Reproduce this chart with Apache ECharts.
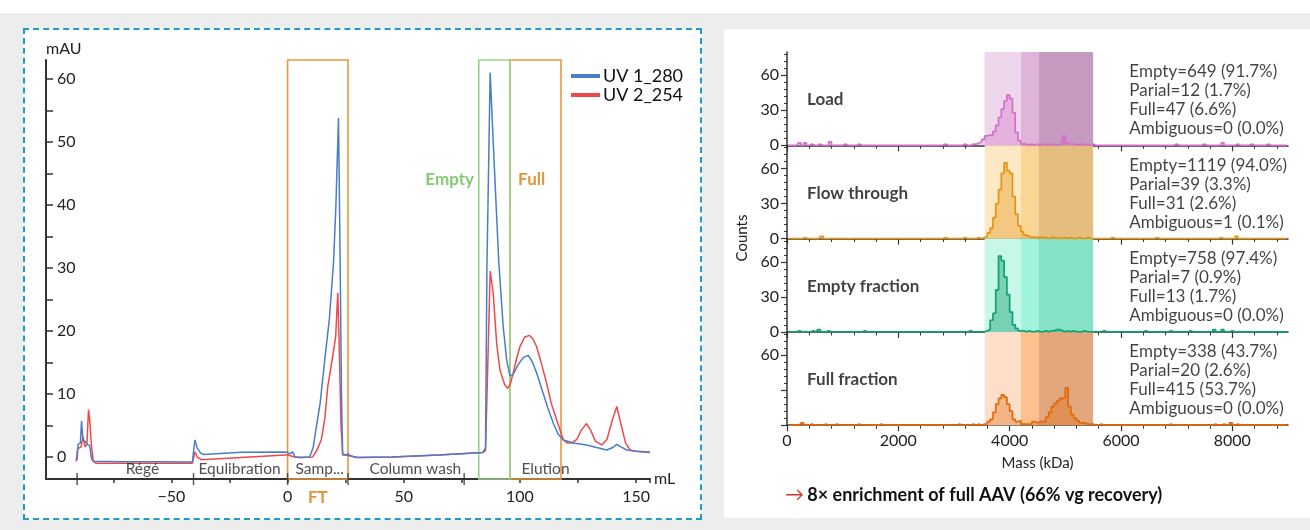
<!DOCTYPE html>
<html>
<head>
<meta charset="utf-8">
<script src="https://cdn.jsdelivr.net/npm/echarts@6/dist/echarts.min.js"></script>
<style>
  html, body { margin: 0; padding: 0; background: #fff; }
  body { width: 1310px; height: 530px; position: relative; overflow: hidden; }
  .bg { position: absolute; left: 0; top: 13px; width: 1310px; height: 517px; background: #ededed; }
  .panel { position: absolute; background: #fff; box-sizing: border-box; }
  #left { left: 23px; top: 28px; width: 679px; height: 492px; border: 2px dashed #1f9cc6; }
  #right { left: 724px; top: 29px; width: 586px; height: 489px; }
  #chart { position: absolute; left: 0; top: 0; width: 1310px; height: 530px; }
</style>
</head>
<body>
<div class="bg"></div>
<div class="panel" id="left"></div>
<div class="panel" id="right"></div>
<div id="chart"></div>
<script>
// chromatogram, [mL, mAU]
const uv280 = [
  [-90.6, -0.5], [-90.2, 2.0], [-89.2, 2.2], [-88.7, 5.7], [-88.1, 2.8], [-87.2, 2.5], [-86.2, 2.0], [-85.2, 1.8],
  [-84.4, -0.3], [-83.6, -0.7], [-70, -0.75], [-55, -0.75], [-41, -0.8], [-40.6, -0.6], [-39.9, 2.7], [-38.9, 1.4],
  [-37.4, 0.6], [-36, 0.4], [-35.3, 0.7], [-20, 0.75], [-1, 0.8], [0, 0.7], [1, 0.5], [2.2, 0.8], [3.2, 0],
  [5.4, -0.1], [9.5, 0], [11, 1.5], [12.4, 4.8], [14, 8.5], [16, 15.4], [18, 22], [19.8, 31], [20.8, 40],
  [21.9, 53.8], [22.5, 35], [23.2, 10], [23.7, 0.5], [25, 0.3], [26, 0.5], [27, 0.2], [30, -0.1], [45, 0],
  [65, 0.3], [84, 0.7], [85.2, 1.5], [85.8, 30], [87.2, 61], [89, 46], [90.9, 31], [92.8, 20.7], [94.3, 15.4],
  [95.7, 12.9], [97, 13], [99, 14.5], [101.5, 15.8], [103.6, 16.1], [105.5, 15], [107.5, 13], [110, 10.1],
  [112, 7.8], [114.4, 5.3], [116.5, 3.6], [118.7, 2.7], [123, 2.2], [128.7, 1.9], [133, 1.5], [137.4, 1.1],
  [140, 1.5], [141.7, 2.0], [143.5, 1.6], [146, 1.1], [150, 0.9], [156, 0.7]
]
const uv254 = [
  [-91, -0.7], [-90.4, 1.3], [-88.9, 1.6], [-88.1, 3.2], [-87.2, 1.6], [-86.4, 2.0], [-85.7, 7.5], [-85.2, 5.9],
  [-84.4, 1.6], [-83.6, -0.7], [-82.6, -1.0], [-60, -1.0], [-41, -1.0], [-40.6, -0.8], [-39.9, 0.8], [-38.9, 0],
  [-37.4, -0.4], [-35.3, -0.4], [-20, -0.1], [-1, 0.3], [0, 0.3], [3, 0], [6, -0.1], [10.8, 0], [12.5, 1],
  [14.5, 2.7], [16, 6], [17.3, 11.2], [19, 15], [20.7, 19.1], [21.2, 23], [21.6, 26], [22.2, 18], [23, 5],
  [23.7, 0.3], [25, 0.3], [30, -0.1], [45, 0], [65, 0.3], [84, 0.7], [85.2, 1], [86.2, 15], [87.2, 29.5],
  [88.5, 26], [90, 18], [91.4, 13.8], [93.5, 11.4], [94.7, 10.9], [95.8, 11.5], [97.1, 13.3], [98.5, 15.5],
  [100, 17.5], [102, 19], [104, 19.3], [105.5, 18.8], [107.2, 17.5], [109.5, 14.5], [111.5, 11.7], [113.5, 8.5],
  [115.8, 5.9], [118.7, 2.7], [120.5, 2.2], [122.3, 2.2], [124.5, 2.8], [126.5, 4.3], [128.7, 5.3], [130.5, 4.2],
  [132.5, 2.5], [135.2, 1.9], [137.5, 2.8], [139.5, 5.5], [141.7, 8.0], [143.5, 5.2], [145.5, 2.2], [147.4, 1.1],
  [150, 0.9], [156, 0.8]
]
const phaseNames = ['Régé', 'Equlibration', 'Samp...', 'Column wash', 'Elution']
const phaseLabelX = [-62.5, -20.7, 13.8, 55, 111]
const phaseMarks = [-90.6, -40.5, 0, 26, 76]
const fractionNames = ['FT', 'Full', 'Empty']
const fractionFrom = [0, 95.7, 82.3]
const fractionTo = [26, 117.7, 95.7]

// mass photometry histograms, counts per 50 kDa bin from 3300 kDa
const panelNames = ['Load', 'Flow through', 'Empty fraction', 'Full fraction']
const loadCounts = [1, 1, 2, 3, 5, 8, 9, 8, 12, 17, 24, 31, 38, 43, 40, 28, 11, 4, 1, 1, 0, 1, 0, 1, 0, 1, 1, 0, 1, 1, 0, 1, 1, 8, 2, 1, 1, 1, 0, 1, 1, 0, 0, 1]
const flowCounts = [0, 0, 1, 0, 1, 2, 5, 9, 18, 30, 42, 56, 65, 58, 56, 36, 21, 11, 6, 3, 2, 1, 1, 1, 1, 1, 1, 0, 1, 1, 0, 1, 0, 1, 0, 1, 0, 0, 1, 0, 0, 1, 0, 0]
const emptyCounts = [0, 0, 0, 0, 0, 1, 2, 10, 16, 36, 65, 61, 47, 32, 17, 6, 3, 1, 1, 0, 1, 0, 0, 1, 0, 0, 1, 0, 1, 1, 2, 2, 1, 0, 1, 0, 1, 0, 0, 0, 1, 0, 0, 0]
const fullCounts = [1, 0, 1, 0, 1, 1, 3, 5, 11, 18, 23, 26, 24, 18, 12, 5, 3, 4, 1, 1, 1, 1, 3, 2, 3, 3, 3, 7, 11, 16, 19, 21, 23, 24, 32, 16, 9, 6, 4, 2, 2, 1, 1, 1]
// isolated events outside the main peak, [kDa, count]
const loadStray = [[200, 2], [300, 2], [400, 1], [550, 1], [750, 3], [1000, 1], [1250, 1], [2800, 1], [3150, 1], [6950, 1], [7450, 1], [7800, 2], [8050, 1], [8300, 1], [8600, 1]]
const flowStray = [[300, 1], [600, 2], [2800, 1], [3150, 1], [5800, 1], [6600, 1], [7750, 1], [8050, 2]]
const emptyStray = [[200, 1], [450, 1], [550, 2], [700, 1], [1350, 1], [3250, 1], [5650, 1], [6400, 1], [6850, 1], [7200, 1], [7650, 2], [7800, 2], [7950, 1]]
const fullStray = [[250, 2], [400, 1], [650, 1], [850, 1], [1250, 1], [1650, 1], [3050, 1], [5600, 1], [6850, 1], [7650, 1], [7800, 1], [7950, 2], [8050, 1]]
const bandEdges = [3550, 4200, 4520, 5500]
const statEmpty = ['649 (91.7%)', '1119 (94.0%)', '758 (97.4%)', '338 (43.7%)']
const statPartial = ['12 (1.7%)', '39 (3.3%)', '7 (0.9%)', '20 (2.6%)']
const statFull = ['47 (6.6%)', '31 (2.6%)', '13 (1.7%)', '415 (53.7%)']
const statAmbiguous = ['0 (0.0%)', '1 (0.1%)', '0 (0.0%)', '0 (0.0%)']

const FONT = 'Lato, "Noto Sans", sans-serif'
const INK = '#222'
const AXIS = '#333'
const BIN0 = 3300, BINW = 50, MASSMAX = 9000

const histColors = [
  {line: '#d56fc9', fill: 'rgba(213,111,201,0.5)', bands: ['#eed7ec', '#dfb3da', '#c79bbf']},
  {line: '#e5940f', fill: 'rgba(229,148,15,0.55)', bands: ['#fde8c6', '#fbd593', '#e4bd7f']},
  {line: '#0e9f72', fill: 'rgba(14,159,114,0.6)', bands: ['#c7f7e7', '#9ff5dc', '#86e2c6']},
  {line: '#e4680c', fill: 'rgba(228,104,12,0.5)', bands: ['#fddfc9', '#fdc18e', '#e2a77c']}
]

function histData(counts, stray) {
  let n = MASSMAX / BINW
  let bins = new Array(n).fill(0)
  let off = BIN0 / BINW
  counts.forEach((c, i) => { bins[off + i] = c })
  stray.forEach(([m, c]) => { bins[Math.floor(m / BINW)] = c })
  return bins.map((c, i) => [i * BINW + BINW / 2, c])
}

let chart = echarts.init(document.getElementById('chart'))

let grids = [{left: 46, top: 60, width: 604, height: 419}]
let xAxes = [{
  type: 'value', gridIndex: 0, min: -104, max: 156,
  axisLine: {onZero: false, lineStyle: {color: AXIS, width: 2}},
  axisTick: {customValues: [-75, -50, -25, 0, 25, 50, 75, 100, 125, 150, 156], length: 4, lineStyle: {color: AXIS, width: 1.5}},
  axisLabel: {customValues: [-50, 0, 50, 100, 150], fontSize: 16, color: INK, fontFamily: FONT, margin: 10,
    formatter: v => String(v).replace('-', '\u2212')},
  splitLine: {show: false},
  name: 'mL', nameGap: 4,
  nameTextStyle: {fontSize: 16, color: INK, fontFamily: FONT, align: 'left', verticalAlign: 'middle'}
}]
let yAxes = [{
  type: 'value', gridIndex: 0, min: -3.5, max: 63,
  axisLine: {show: true, onZero: false, lineStyle: {color: AXIS, width: 2}},
  axisTick: {show: true, inside: true, length: 7, customValues: [0, 5, 10, 15, 20, 25, 30, 35, 40, 45, 50, 55, 60], lineStyle: {color: AXIS, width: 1.5}},
  axisLabel: {inside: true, margin: 11, customValues: [0, 10, 20, 30, 40, 50, 60], fontSize: 16, color: INK, fontFamily: FONT},
  splitLine: {show: false},
  name: 'mAU', nameLocation: 'end', nameGap: 3,
  nameTextStyle: {fontSize: 16, color: INK, fontFamily: FONT, align: 'left', verticalAlign: 'bottom'}
}]

let series = [
  {name: 'UV 1_280', type: 'line', xAxisIndex: 0, yAxisIndex: 0, data: uv280, showSymbol: false,
    color: '#4a7ccc', lineStyle: {width: 1.5}, z: 3},
  {name: 'UV 2_254', type: 'line', xAxisIndex: 0, yAxisIndex: 0, data: uv254, showSymbol: false,
    color: '#f04848', lineStyle: {width: 1.5}, z: 2},
  {type: 'scatter', xAxisIndex: 0, yAxisIndex: 0, silent: true, clip: false,
    data: phaseMarks.map(x => [x, -3.5]), symbol: 'rect', symbolSize: [1.5, 12], itemStyle: {color: AXIS}},
  {type: 'scatter', xAxisIndex: 0, yAxisIndex: 0, silent: true, symbolSize: 0,
    data: phaseLabelX.map((x, i) => ({value: [x, -1.9], name: phaseNames[i]})),
    label: {show: true, position: 'inside', formatter: '{b}', fontSize: 15.5, color: INK, fontFamily: FONT}},
  {type: 'line', xAxisIndex: 0, yAxisIndex: 0, data: [], silent: true, z: 4,
    markArea: {
      silent: true,
      data: fractionNames.map((name, i) => {
        let green = name === 'Empty'
        let stroke = green ? '#98d589' : '#e8993d'
        let text = green ? '#84cc74' : '#e3953a'
        let label = {show: true, formatter: name, fontSize: 17, fontWeight: 'bold', color: text, fontFamily: FONT}
        if (name === 'FT') Object.assign(label, {position: 'bottom', distance: 9})
        if (name === 'Empty') Object.assign(label, {position: [-4, 120], align: 'right', verticalAlign: 'middle'})
        if (name === 'Full') Object.assign(label, {position: [9, 120], align: 'left', verticalAlign: 'middle'})
        return [
          {name: name, xAxis: fractionFrom[i], yAxis: -3.5,
            itemStyle: {color: 'rgba(0,0,0,0)', borderColor: stroke, borderWidth: 1.6}, label: label},
          {xAxis: fractionTo[i], yAxis: 63}
        ]
      })
    }}
]

let histCounts = [loadCounts, flowCounts, emptyCounts, fullCounts]
let histStray = [loadStray, flowStray, emptyStray, fullStray]
let panelH = 93.3
panelNames.forEach((name, i) => {
  let g = i + 1
  let last = i === panelNames.length - 1
  grids.push({left: 787, top: 52 + panelH * i, width: 501, height: panelH})
  xAxes.push({
    type: 'value', gridIndex: g, min: 0, max: MASSMAX, interval: 2000,
    axisLine: {onZero: false, lineStyle: {color: AXIS, width: 1.5}},
    axisTick: {customValues: [0, 2000, 4000, 6000, 8000], length: 6, lineStyle: {color: AXIS, width: 1.2}},
    minorTick: {show: true, splitNumber: 5, length: 3.5, lineStyle: {color: AXIS, width: 1}},
    axisLabel: {show: last, customValues: [0, 2000, 4000, 6000, 8000], formatter: v => String(v),
      fontSize: 16, color: INK, fontFamily: FONT, margin: 8},
    splitLine: {show: false}, minorSplitLine: {show: false},
    name: last ? 'Mass (kDa)' : '', nameLocation: 'middle', nameGap: 30,
    nameTextStyle: {fontSize: 15, color: INK, fontFamily: FONT}
  })
  yAxes.push({
    type: 'value', gridIndex: g, min: 0, max: 80, interval: 30,
    axisLine: {show: true, onZero: false, lineStyle: {color: AXIS, width: 1.5}},
    axisTick: {customValues: [0, 30, 60], length: 6, lineStyle: {color: AXIS, width: 1.2}},
    minorTick: {show: true, splitNumber: 5, length: 3, lineStyle: {color: AXIS, width: 1}},
    axisLabel: {customValues: last ? [60] : [0, 30, 60], fontSize: 16, color: INK, fontFamily: FONT, margin: 8},
    splitLine: {show: false}, minorSplitLine: {show: false}
  })
  let c = histColors[i]
  series.push({
    type: 'line', xAxisIndex: g, yAxisIndex: g, step: 'middle', showSymbol: false, silent: true,
    data: histData(histCounts[i], histStray[i]),
    lineStyle: {color: c.line, width: 1.7}, itemStyle: {color: c.line},
    areaStyle: {color: c.fill, origin: 'start'},
    markArea: {
      silent: true,
      data: c.bands.map((col, k) => [
        {xAxis: bandEdges[k], yAxis: 0, itemStyle: {color: col}},
        {xAxis: bandEdges[k + 1], yAxis: 80}
      ])
    }
  })
  let stats = [
    'Empty=' + statEmpty[i], 'Parial=' + statPartial[i],
    'Full=' + statFull[i], 'Ambiguous=' + statAmbiguous[i]
  ].join('\n')
  series.push({
    type: 'scatter', xAxisIndex: g, yAxisIndex: g, silent: true, symbolSize: 0, z: 5,
    data: [
      {value: [360, 39], name: name,
        label: {show: true, position: 'right', distance: 0, formatter: '{b}', fontSize: 17, fontWeight: 'bold', color: '#111', fontFamily: FONT}},
      {value: [6150, 38.5], name: stats,
        label: {show: true, position: 'right', distance: 0, formatter: '{b}', fontSize: 17, lineHeight: 19, color: '#111', fontFamily: FONT}}
    ]
  })
})

chart.setOption({
  animation: false,
  textStyle: {fontFamily: FONT},
  grid: grids,
  xAxis: xAxes,
  yAxis: yAxes,
  legend: {
    data: ['UV 1_280', 'UV 2_254'], orient: 'vertical', left: 566, top: 62,
    icon: 'rect', itemWidth: 29, itemHeight: 4, itemGap: 1, itemStyle: {borderWidth: 0},
    textStyle: {fontSize: 18, color: '#111', fontFamily: FONT, padding: [0, 0, 0, -2]}
  },
  graphic: [
    {type: 'text', x: 742, y: 238, rotation: Math.PI / 2,
      style: {text: 'Counts', font: '15px ' + FONT, fill: INK, align: 'center', verticalAlign: 'middle'}},
    {type: 'text', x: 785, y: 495,
      style: {
        text: '{a|\u2192} {b|8\u00d7 enrichment of full AAV (66% vg recovery)}',
        verticalAlign: 'middle',
        rich: {
          a: {fill: '#c0392b', fontSize: 19, fontFamily: FONT},
          b: {fill: '#111', fontSize: 18, fontWeight: 'bold', fontFamily: FONT}
        }
      }}
  ],
  series: series
})
</script>
</body>
</html>
